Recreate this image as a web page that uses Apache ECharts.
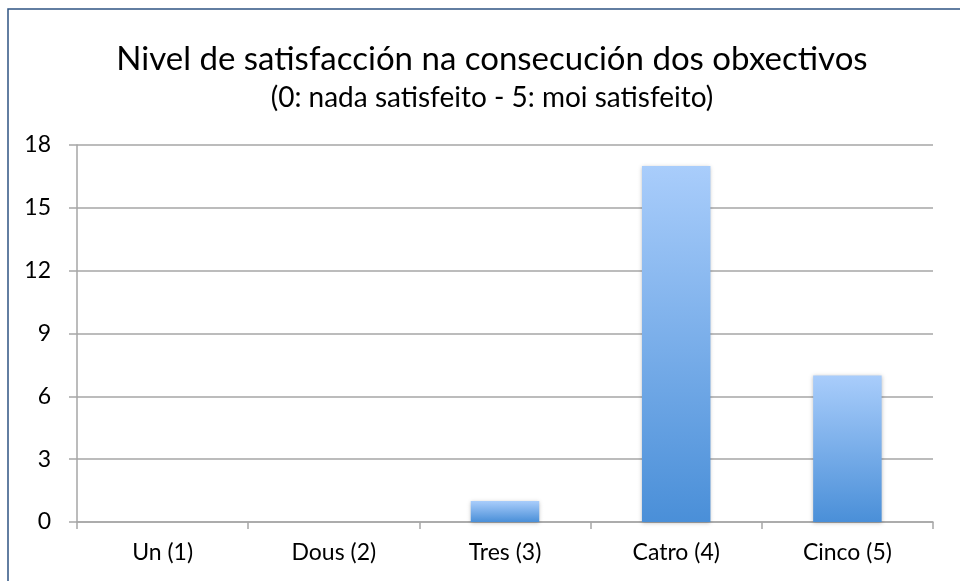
<!DOCTYPE html>
<html>
<head>
<meta charset="utf-8">
<script src="https://cdn.jsdelivr.net/npm/echarts@6/dist/echarts.min.js"></script>
<style>
  html, body { margin: 0; padding: 0; background: #fff; }
  #chart { width: 960px; height: 581px; }
</style>
</head>
<body>
<div id="chart"></div>
<script>
const categories = ['Un (1)', 'Dous (2)', 'Tres (3)', 'Catro (4)', 'Cinco (5)'];
const values = [0, 0, 1, 17, 7];
const yTicks = [0, 3, 6, 9, 12, 15, 18];

const fontFamily = 'Lato, "Open Sans", sans-serif';
const gridColor = '#a6a6a6';

let chart = echarts.init(document.getElementById('chart'));
chart.setOption({
    animation: false,
    backgroundColor: '#fff',
    title: [{
        text: 'Nivel de satisfacción na consecución dos obxectivos',
        left: 487,
        top: 38,
        textAlign: 'center',
        textStyle: { fontFamily: fontFamily, fontSize: 33, fontWeight: 'normal', color: '#000' }
    }, {
        text: '(0: nada satisfeito - 5: moi satisfeito)',
        left: 487,
        top: 79,
        textAlign: 'center',
        textStyle: { fontFamily: fontFamily, fontSize: 28, fontWeight: 'normal', color: '#000' }
    }],
    graphic: [{
        type: 'rect',
        shape: { x: 8, y: 9, width: 1000, height: 1000 },
        style: { fill: 'none', stroke: '#2f5483', lineWidth: 1.5 },
        silent: true
    }],
    grid: { left: 77, right: 27, top: 145, bottom: 59 },
    xAxis: {
        type: 'category',
        data: categories,
        axisLine: { lineStyle: { color: gridColor, width: 1.5 } },
        axisTick: { show: true, length: 7, lineStyle: { color: gridColor, width: 1.5 } },
        axisLabel: { fontFamily: fontFamily, fontSize: 23, color: '#000', margin: 19 }
    },
    yAxis: {
        type: 'value',
        min: yTicks[0],
        max: yTicks[yTicks.length - 1],
        interval: 3,
        axisLine: { show: true, lineStyle: { color: gridColor, width: 1.5 } },
        axisTick: { show: true, length: 8, lineStyle: { color: gridColor, width: 1.5 } },
        splitLine: { lineStyle: { color: gridColor, width: 1.5 } },
        axisLabel: { fontFamily: fontFamily, fontSize: 23, color: '#000', margin: 26 }
    },
    series: [{
        type: 'bar',
        data: values,
        barWidth: '40%',
        itemStyle: {
            color: new echarts.graphic.LinearGradient(0, 0, 0, 1, [
                { offset: 0, color: '#a9cdfb' },
                { offset: 1, color: '#4a8fd8' }
            ]),
            shadowColor: 'rgba(0,0,0,0.25)',
            shadowBlur: 4,
            shadowOffsetY: 1
        }
    }]
});
</script>
</body>
</html>
